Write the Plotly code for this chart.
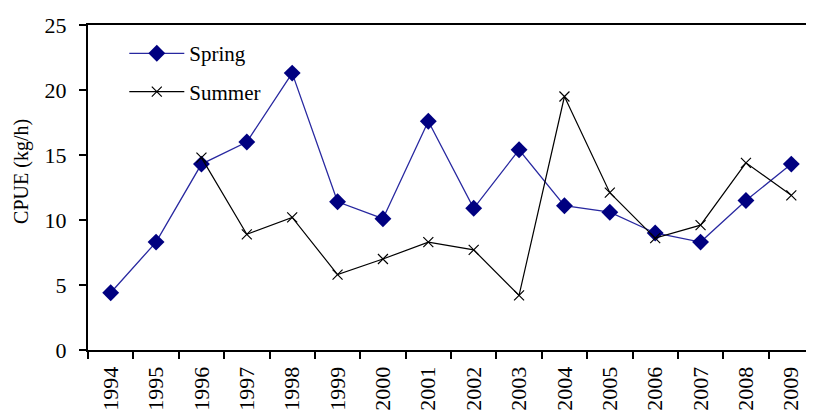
import plotly.graph_objects as go

years = ["1994", "1995", "1996", "1997", "1998", "1999", "2000", "2001",
         "2002", "2003", "2004", "2005", "2006", "2007", "2008", "2009"]
spring = [4.4, 8.3, 14.3, 16.0, 21.3, 11.4, 10.1, 17.6, 10.9, 15.4, 11.1, 10.6, 9.0, 8.3, 11.5, 14.3]
summer = [None, None, 14.8, 8.9, 10.2, 5.8, 7.0, 8.3, 7.7, 4.2, 19.5, 12.1, 8.6, 9.6, 14.4, 11.9]
y_title = "CPUE (kg/h)"

FONT = "Liberation Serif, Times New Roman, serif"

fig = go.Figure()
fig.add_trace(go.Scatter(
    x=years, y=spring, name="Spring", mode="lines+markers",
    line=dict(color="#2828A0", width=1.3),
    marker=dict(symbol="diamond", size=13, color="#000080"),
    legendgroup="a",
))
fig.add_trace(go.Scatter(
    x=years, y=summer, name="Summer", mode="lines+markers",
    line=dict(color="#000000", width=1.2),
    marker=dict(symbol="x-thin", size=10, line=dict(color="#000000", width=1.2)),
    legendgroup="b", connectgaps=False,
))

fig.add_annotation(
    text=y_title, xref="paper", yref="paper", x=-0.0909, y=0.548,
    xanchor="center", yanchor="middle", textangle=-90, showarrow=False,
    font=dict(size=20, family=FONT, color="black"), borderpad=0,
)

fig.update_layout(
    width=806, height=409,
    margin=dict(l=80, r=0, t=17, b=67, autoexpand=False),
    paper_bgcolor="white", plot_bgcolor="white",
    font=dict(family=FONT, color="black", size=20),
    showlegend=True,
    legend=dict(x=0.05, y=0.975, xanchor="left", yanchor="top",
                bgcolor="rgba(0,0,0,0)", font=dict(size=21, family=FONT),
                tracegroupgap=8, traceorder="grouped", itemwidth=55),
    xaxis=dict(
        type="category", showgrid=False, showline=True, linecolor="black", linewidth=2,
        mirror=True, ticks="outside", tickson="boundaries", ticklen=7, tickwidth=2,
        tickcolor="black", tickangle=-90, tickfont=dict(size=22, family=FONT),
        range=[-0.5, 15.5], automargin=False, ticklabelstandoff=6,
    ),
    yaxis=dict(
        range=[0, 25], dtick=5, showgrid=False, showline=True, linecolor="black",
        linewidth=2, ticks="outside", ticklen=7, tickwidth=2, tickcolor="black",
        tickfont=dict(size=22, family=FONT), zeroline=False, automargin=False,
        ticklabelstandoff=8,
    ),
)

fig.write_html("out.html")
